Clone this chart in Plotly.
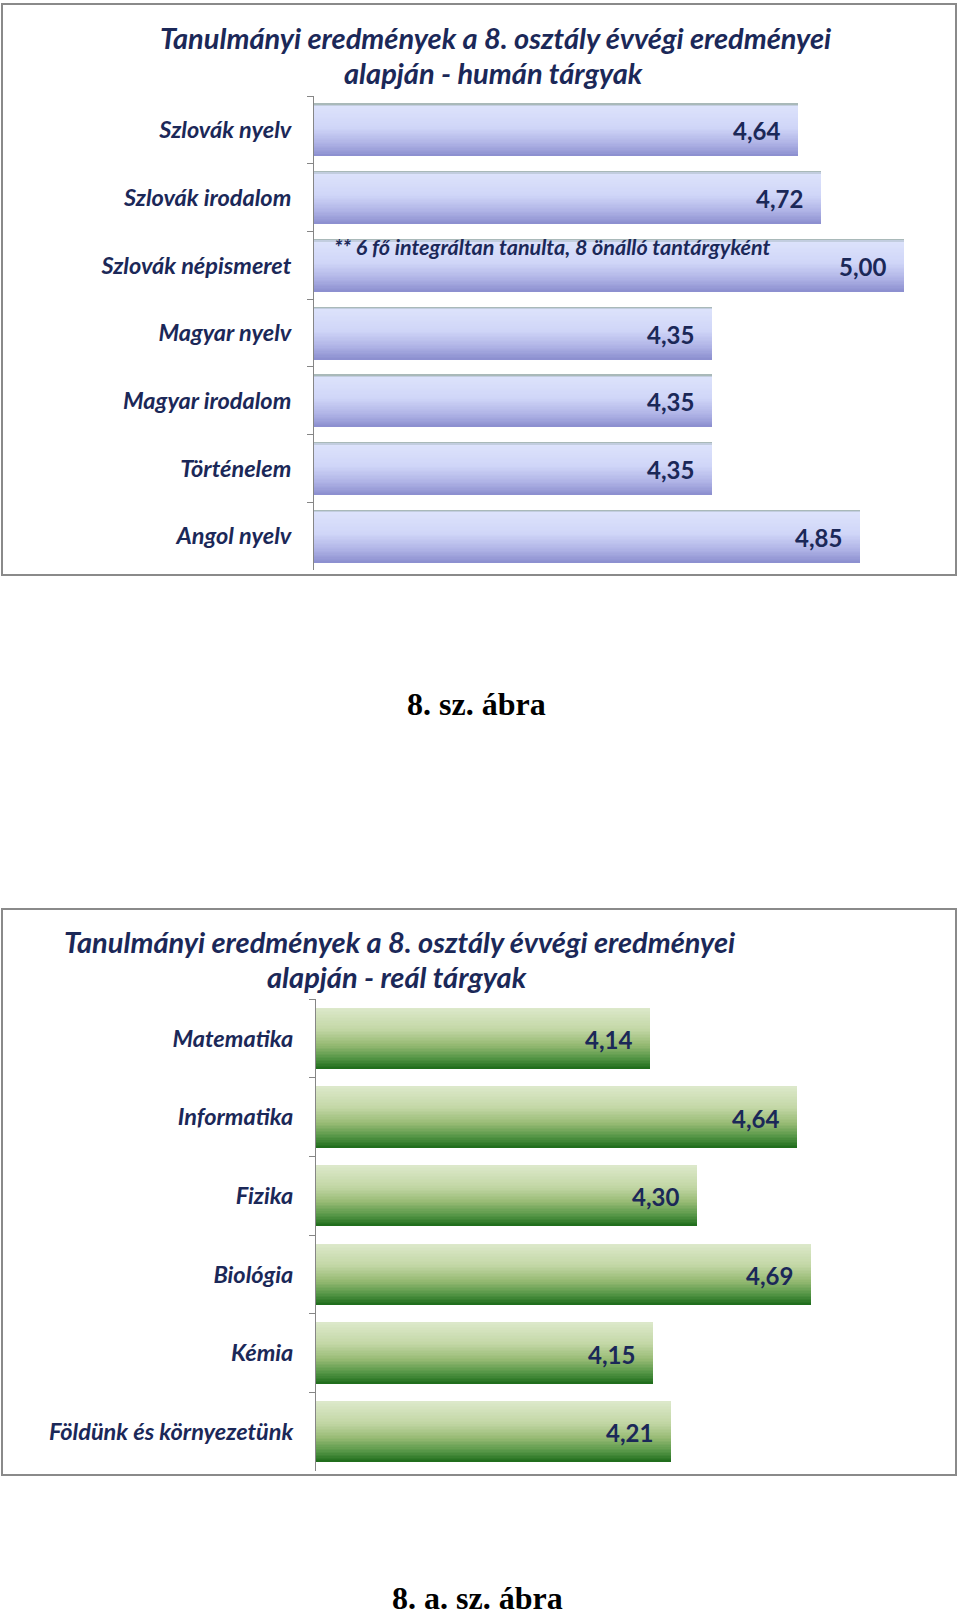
import plotly.graph_objects as go

# ---------------- data ----------------
human_subjects = ["Szlovák nyelv", "Szlovák irodalom", "Szlovák népismeret",
                  "Magyar nyelv", "Magyar irodalom", "Történelem", "Angol nyelv"]
human_values = [4.64, 4.72, 5.00, 4.35, 4.35, 4.35, 4.85]

real_subjects = ["Matematika", "Informatika", "Fizika", "Biológia", "Kémia",
                 "Földünk és környezetünk"]
real_values = [4.14, 4.64, 4.30, 4.69, 4.15, 4.21]

title_line1 = "Tanulmányi eredmények a 8. osztály évvégi eredményei"
title_human_line2 = "alapján - humán tárgyak"
title_real_line2 = "alapján - reál tárgyak"
note_text = "** 6 fő integráltan tanulta, 8 önálló tantárgyként"
caption_1 = "8. sz. ábra"
caption_2 = "8. a. sz. ábra"

axis_range = [3, 5]

# ---------------- styling helpers ----------------
W, H = 960, 1617
FONT = "Lato"
NAVY = "#1b2858"


def lerp(c1, c2, t):
    a = [int(c1[i:i + 2], 16) for i in (1, 3, 5)]
    b = [int(c2[i:i + 2], 16) for i in (1, 3, 5)]
    return "#%02x%02x%02x" % tuple(round(a[k] + (b[k] - a[k]) * t) for k in range(3))


def grad(stops, t):
    for (p0, c0), (p1, c1) in zip(stops, stops[1:]):
        if p0 <= t <= p1:
            return lerp(c0, c1, (t - p0) / (p1 - p0) if p1 > p0 else 0)
    return stops[-1][1]


blue_stops = [(0.0, "#9db0a4"), (0.03, "#b9c6d6"), (0.06, "#dce2fb"), (0.45, "#d0d6f8"),
              (0.75, "#b0b4e6"), (1.0, "#8b8ecf")]
green_stops = [(0.0, "#dde9cb"), (0.35, "#c3d7a6"), (0.6, "#98bb75"), (0.82, "#559646"),
               (1.0, "#1d6b1a")]

BAR_W = 0.78
N = 40


def add_gradient_bars(fig, cats, vals, stops, xa, ya):
    step = BAR_W / N
    for i in range(N):
        t = (i + 0.5) / N
        fig.add_trace(go.Bar(
            y=cats, x=vals, orientation="h",
            width=BAR_W - i * step, offset=-BAR_W / 2 + i * step,
            marker=dict(color=grad(stops, t), line=dict(width=0)),
            xaxis=xa, yaxis=ya, showlegend=False, hoverinfo="skip",
        ))


fig = go.Figure()
add_gradient_bars(fig, human_subjects, human_values, blue_stops, "x", "y")
add_gradient_bars(fig, real_subjects, real_values, green_stops, "x2", "y2")


def py(px):
    return 1 - px / H


axis_common = dict(
    showline=True, linecolor="#868686", linewidth=1,
    ticks="outside", ticklen=6, tickcolor="#868686", tickson="boundaries",
    autorange="reversed", showgrid=False, zeroline=False,
    tickfont=dict(family=FONT, size=23.5, color=NAVY, style="italic", weight="bold"),
    ticklabelstandoff=17,
)

fig.update_layout(
    width=W, height=H, margin=dict(l=0, r=0, t=0, b=0),
    paper_bgcolor="white", plot_bgcolor="rgba(0,0,0,0)",
    barmode="overlay", bargap=0,
    xaxis=dict(domain=[314 / W, 904 / W], range=axis_range, visible=False, anchor="y"),
    yaxis=dict(domain=[py(570), py(96)], anchor="x", **axis_common),
    xaxis2=dict(domain=[316 / W, 902 / W], range=axis_range, visible=False, anchor="y2"),
    yaxis2=dict(domain=[py(1471), py(999)], anchor="x2", **axis_common),
)

val_font = dict(family=FONT, size=24, color=NAVY, weight="bold")
annotations = []
for cat, v in zip(human_subjects, human_values):
    annotations.append(dict(x=v, y=cat, xref="x", yref="y", xanchor="right",
                            xshift=-16, yshift=-1, showarrow=False,
                            text=f"{v:.2f}".replace(".", ","), font=val_font))
for cat, v in zip(real_subjects, real_values):
    annotations.append(dict(x=v, y=cat, xref="x2", yref="y2", xanchor="right",
                            xshift=-16, yshift=-1, showarrow=False,
                            text=f"{v:.2f}".replace(".", ","), font=val_font))

# note on Szlovák népismeret
annotations.append(dict(x=0.03, y=human_subjects[2], xref="x domain", yref="y",
                        xanchor="left", yshift=18, showarrow=False, text=note_text,
                        font=dict(family=FONT, size=21.5, color=NAVY, style="italic",
                                  weight="bold")))

title_font = dict(family=FONT, size=29, color=NAVY, style="italic", weight="bold")


def title(text, xc, yc):
    return dict(x=xc / W, y=py(yc), xref="paper", yref="paper", xanchor="center",
                yanchor="middle", showarrow=False, text=text, font=title_font)


annotations += [title(title_line1, 495, 38), title(title_human_line2, 494, 72),
                title(title_line1, 399, 941), title(title_real_line2, 397, 976)]

# captions
cap_font = dict(family="Liberation Serif", size=32, color="black", weight="bold")
annotations.append(dict(x=476 / W, y=py(704), xref="paper", yref="paper",
                        xanchor="center", yanchor="middle", showarrow=False,
                        text=caption_1, font=cap_font))
annotations.append(dict(x=477 / W, y=py(1598), xref="paper", yref="paper",
                        xanchor="center", yanchor="middle", showarrow=False,
                        text=caption_2, font=cap_font))
fig.update_layout(annotations=annotations)

# chart frames
shapes = [
    dict(type="rect", xref="paper", yref="paper", x0=2 / W, x1=956 / W,
         y0=py(575), y1=py(4), line=dict(color="#8a8a8a", width=2), layer="below"),
    dict(type="rect", xref="paper", yref="paper", x0=2 / W, x1=956 / W,
         y0=py(1475), y1=py(909), line=dict(color="#8a8a8a", width=2), layer="below"),
]
fig.update_layout(shapes=shapes)

fig.write_html("out.html")
